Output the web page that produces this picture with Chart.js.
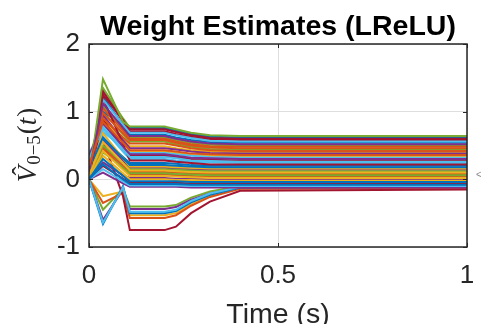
<!DOCTYPE html>
<html><head><meta charset="utf-8">
<script src="https://cdn.jsdelivr.net/npm/chart.js@4"></script>
<style>html,body{margin:0;padding:0;background:#fff;overflow:hidden}</style>
</head><body>
<canvas id="c" width="481" height="324" style="display:block;width:481px;height:324px"></canvas>
<script>
// time samples (s)
const timePoints = [0, 0.037, 0.09, 0.108, 0.2, 0.23, 0.27, 0.32, 0.4, 1];

// weight estimates that settle at or above about -0.12
const positiveWeights = [
  [0.00,0.30,0.05,-0.03,-0.03,-0.03,-0.04,-0.04,-0.04,-0.04],
  [0.20,0.85,0.54,0.43,0.43,0.41,0.38,0.37,0.36,0.36],
  [0.05,0.55,0.24,0.13,0.13,0.12,0.11,0.10,0.10,0.10],
  [0.10,1.12,0.76,0.64,0.64,0.60,0.56,0.53,0.52,0.52],
  [0.00,1.48,0.85,0.78,0.78,0.74,0.69,0.65,0.64,0.64],
  [0.30,0.78,0.44,0.33,0.33,0.31,0.28,0.27,0.26,0.26],
  [0.00,1.25,0.87,0.74,0.74,0.70,0.65,0.61,0.60,0.60],
  [0.15,0.62,0.31,0.21,0.21,0.20,0.19,0.18,0.18,0.18],
  [0.25,0.98,0.68,0.58,0.58,0.54,0.50,0.47,0.46,0.46],
  [0.00,0.42,0.14,0.05,0.05,0.04,0.03,0.02,0.02,0.02],
  [0.35,0.82,0.48,0.37,0.37,0.35,0.32,0.31,0.30,0.30],
  [0.05,0.50,0.24,0.15,0.15,0.14,0.13,0.12,0.12,0.12],
  [0.10,1.18,0.81,0.69,0.69,0.65,0.61,0.57,0.56,0.56],
  [0.00,1.20,0.52,0.28,0.28,0.26,0.24,0.22,0.22,0.22],
  [0.00,0.22,0.00,-0.07,-0.07,-0.07,-0.08,-0.08,-0.08,-0.08],
  [0.20,0.90,0.62,0.53,0.53,0.50,0.46,0.43,0.42,0.42],
  [0.05,0.68,0.31,0.19,0.19,0.18,0.17,0.16,0.16,0.16],
  [0.10,0.95,0.58,0.46,0.46,0.44,0.41,0.39,0.38,0.38],
  [0.00,0.40,0.17,0.09,0.09,0.08,0.07,0.06,0.06,0.06],
  [0.40,0.70,0.47,0.39,0.39,0.37,0.35,0.33,0.32,0.32],
  [0.05,1.30,0.86,0.71,0.71,0.67,0.63,0.59,0.58,0.58],
  [0.10,0.60,0.33,0.24,0.24,0.23,0.21,0.20,0.20,0.20],
  [0.00,1.05,0.72,0.60,0.60,0.56,0.52,0.49,0.48,0.48],
  [0.00,0.35,0.09,0.00,0.00,-0.01,-0.01,-0.02,-0.02,-0.02],
  [0.20,0.58,0.28,0.17,0.17,0.16,0.15,0.14,0.14,0.14],
  [0.15,1.08,0.74,0.62,0.62,0.58,0.54,0.51,0.50,0.50],
  [0.00,0.15,-0.03,-0.09,-0.09,-0.09,-0.10,-0.10,-0.10,-0.10],
  [0.05,0.88,0.48,0.35,0.35,0.33,0.30,0.29,0.28,0.28],
  [0.00,1.00,0.80,0.76,0.76,0.72,0.67,0.63,0.62,0.62],
  [0.10,0.48,0.20,0.11,0.11,0.10,0.09,0.08,0.08,0.08],
  [0.00,0.92,0.54,0.41,0.41,0.39,0.36,0.35,0.34,0.34],
  [0.00,0.25,0.06,0.02,0.02,0.01,0.01,0.00,0.00,0.00],
  [0.30,1.00,0.66,0.56,0.56,0.52,0.48,0.45,0.44,0.44],
  [0.00,0.75,0.41,0.30,0.30,0.28,0.26,0.25,0.24,0.24],
  [0.00,0.20,0.01,-0.05,-0.05,-0.05,-0.06,-0.06,-0.06,-0.06],
  [0.05,1.22,0.80,0.66,0.66,0.62,0.58,0.55,0.54,0.54],
  [0.05,0.45,0.16,0.07,0.07,0.06,0.05,0.04,0.04,0.04],
  [0.10,0.88,0.59,0.49,0.49,0.46,0.43,0.41,0.40,0.40],
  [0.00,0.10,-0.06,-0.11,-0.11,-0.11,-0.12,-0.12,-0.12,-0.12],
  [0.00,1.35,0.90,0.76,0.76,0.71,0.66,0.61,0.60,0.60]
];

// weight estimates that dip negative
const negativeWeights = [
  [0.00,-0.64,-0.12,-0.48,-0.48,-0.45,-0.32,-0.21,-0.11,-0.10],
  [0.00,0.58,-0.25,-0.75,-0.75,-0.70,-0.50,-0.33,-0.17,-0.15],
  [0.00,-0.66,-0.10,-0.50,-0.50,-0.47,-0.34,-0.23,-0.12,-0.11],
  [0.00,-0.35,-0.20,-0.57,-0.57,-0.53,-0.39,-0.26,-0.14,-0.13],
  [0.00,-0.25,-0.18,-0.53,-0.53,-0.50,-0.36,-0.24,-0.13,-0.12],
  [0.00,-0.60,-0.15,-0.44,-0.44,-0.41,-0.30,-0.21,-0.12,-0.11],
  [0.00,-0.45,-0.14,-0.40,-0.40,-0.38,-0.27,-0.18,-0.10,-0.09]
];

const xTickValues = [0, 0.5, 1];
const xTickLabels = ['0', '0.5', '1'];
const yTickValues = [-1, 0, 1, 2];
const yTickLabels = ['-1', '0', '1', '2'];
const titleText = 'Weight Estimates (LReLU)';
const xAxisLabel = 'Time (s)';

const palette = ['#0072BD','#D95319','#EDB120','#7E2F8E','#77AC30','#4DBEEE','#A2142F'];
const allSeries = positiveWeights.concat(negativeWeights);
const datasets = allSeries.map((vals, i) => ({
  data: vals.map((v, j) => ({x: timePoints[j], y: v})),
  borderColor: palette[i % palette.length],
  borderWidth: 2,
  pointRadius: 0,
  tension: 0,
  fill: false
}));

const TXT = '#262626';
const decor = {
  id: 'decor',
  beforeDraw(chart) {
    const c = chart.ctx;
    c.save(); c.fillStyle = '#fff'; c.fillRect(0, 0, chart.width, chart.height); c.restore();
  },
  afterDraw(chart) {
    const c = chart.ctx, a = chart.chartArea;
    const xs = chart.scales.x, ys = chart.scales.y;
    c.save();
    c.strokeStyle = TXT; c.lineWidth = 1.5;
    c.strokeRect(a.left, a.top, a.right - a.left, a.bottom - a.top);
    c.lineWidth = 1;
    c.beginPath();
    xTickValues.forEach(v => {
      const px = Math.round(xs.getPixelForValue(v)) + 0.5;
      c.moveTo(px, a.bottom); c.lineTo(px, a.bottom - 4);
      c.moveTo(px, a.top); c.lineTo(px, a.top + 4);
    });
    yTickValues.forEach(v => {
      const py = Math.round(ys.getPixelForValue(v)) + 0.5;
      c.moveTo(a.left, py); c.lineTo(a.left + 4, py);
      c.moveTo(a.right, py); c.lineTo(a.right - 4, py);
    });
    c.stroke();
    c.fillStyle = '#000';
    c.font = 'bold 28.5px "Liberation Sans", Arial, sans-serif';
    c.textAlign = 'center'; c.textBaseline = 'alphabetic';
    c.fillText(titleText, (a.left + a.right) / 2, 35);
    c.fillStyle = TXT;
    c.font = '28.5px "Liberation Sans", Arial, sans-serif';
    c.fillText(xAxisLabel, (a.left + a.right) / 2, 323);
    // y label  V̂_{0−5}(t)
    c.translate(36, 145);
    c.rotate(-Math.PI / 2);
    c.textAlign = 'left';
    const fIt = 'italic 27px "Liberation Serif", serif';
    const fUp = '27px "Liberation Serif", serif';
    const fSub = '19px "Liberation Serif", serif';
    const parts = [
      {t: 'V', f: fIt, dy: 0},
      {t: '0\u22125', f: fSub, dy: 4, pre: 1},
      {t: '(', f: fUp, dy: 0, pre: 1},
      {t: 't', f: fIt, dy: 0},
      {t: ')', f: fUp, dy: 0, pre: 1}
    ];
    let total = 0;
    parts.forEach(p => { c.font = p.f; p.w = c.measureText(p.t).width; total += p.w + (p.pre || 0); });
    let x = -total / 2;
    parts.forEach((p, i) => {
      x += (p.pre || 0);
      c.font = p.f;
      c.fillText(p.t, x, p.dy);
      if (i === 0) {
        c.font = fUp;
        c.textAlign = 'center';
        c.fillText('\u02C6', x + p.w / 2 + 3, -5);
        c.textAlign = 'left';
      }
      x += p.w;
    });
    c.restore();
    c.save();
    c.fillStyle = '#8a8a8a';
    c.font = '10px "Liberation Sans", Arial, sans-serif';
    c.textAlign = 'left'; c.textBaseline = 'middle';
    c.fillText('<', 476, 175);
    c.restore();
  }
};

new Chart(document.getElementById('c'), {
  type: 'line',
  data: { datasets },
  options: {
    responsive: false,
    animation: false,
    devicePixelRatio: 1,
    layout: { padding: { top: 44, right: 14, left: 0, bottom: 0 } },
    plugins: { legend: { display: false }, tooltip: { enabled: false }, title: { display: false } },
    elements: { point: { radius: 0 } },
    scales: {
      x: {
        type: 'linear', min: 0, max: 1,
        afterBuildTicks: ax => { ax.ticks = xTickValues.map(v => ({ value: v })); },
        ticks: {
          callback: (v, i) => xTickLabels[i],
          font: { family: '"Liberation Sans", Arial, sans-serif', size: 26 },
          color: TXT, padding: 13, maxRotation: 0, autoSkip: false
        },
        grid: { color: '#dedede', lineWidth: 1, drawTicks: false },
        border: { display: false },
        afterFit: s => { s.height = 77; s.paddingLeft = 0; s.paddingRight = 0; }
      },
      y: {
        type: 'linear', min: -1, max: 2,
        afterBuildTicks: ax => { ax.ticks = yTickValues.map(v => ({ value: v })); },
        ticks: {
          callback: (v, i) => yTickLabels[i],
          font: { family: '"Liberation Sans", Arial, sans-serif', size: 26 },
          color: TXT, padding: 9, autoSkip: false
        },
        grid: { color: '#dedede', lineWidth: 1, drawTicks: false },
        border: { display: false },
        afterFit: s => { s.width = 89; s.paddingTop = 0; s.paddingBottom = 0; }
      }
    }
  },
  plugins: [decor]
});
</script>
</body></html>
